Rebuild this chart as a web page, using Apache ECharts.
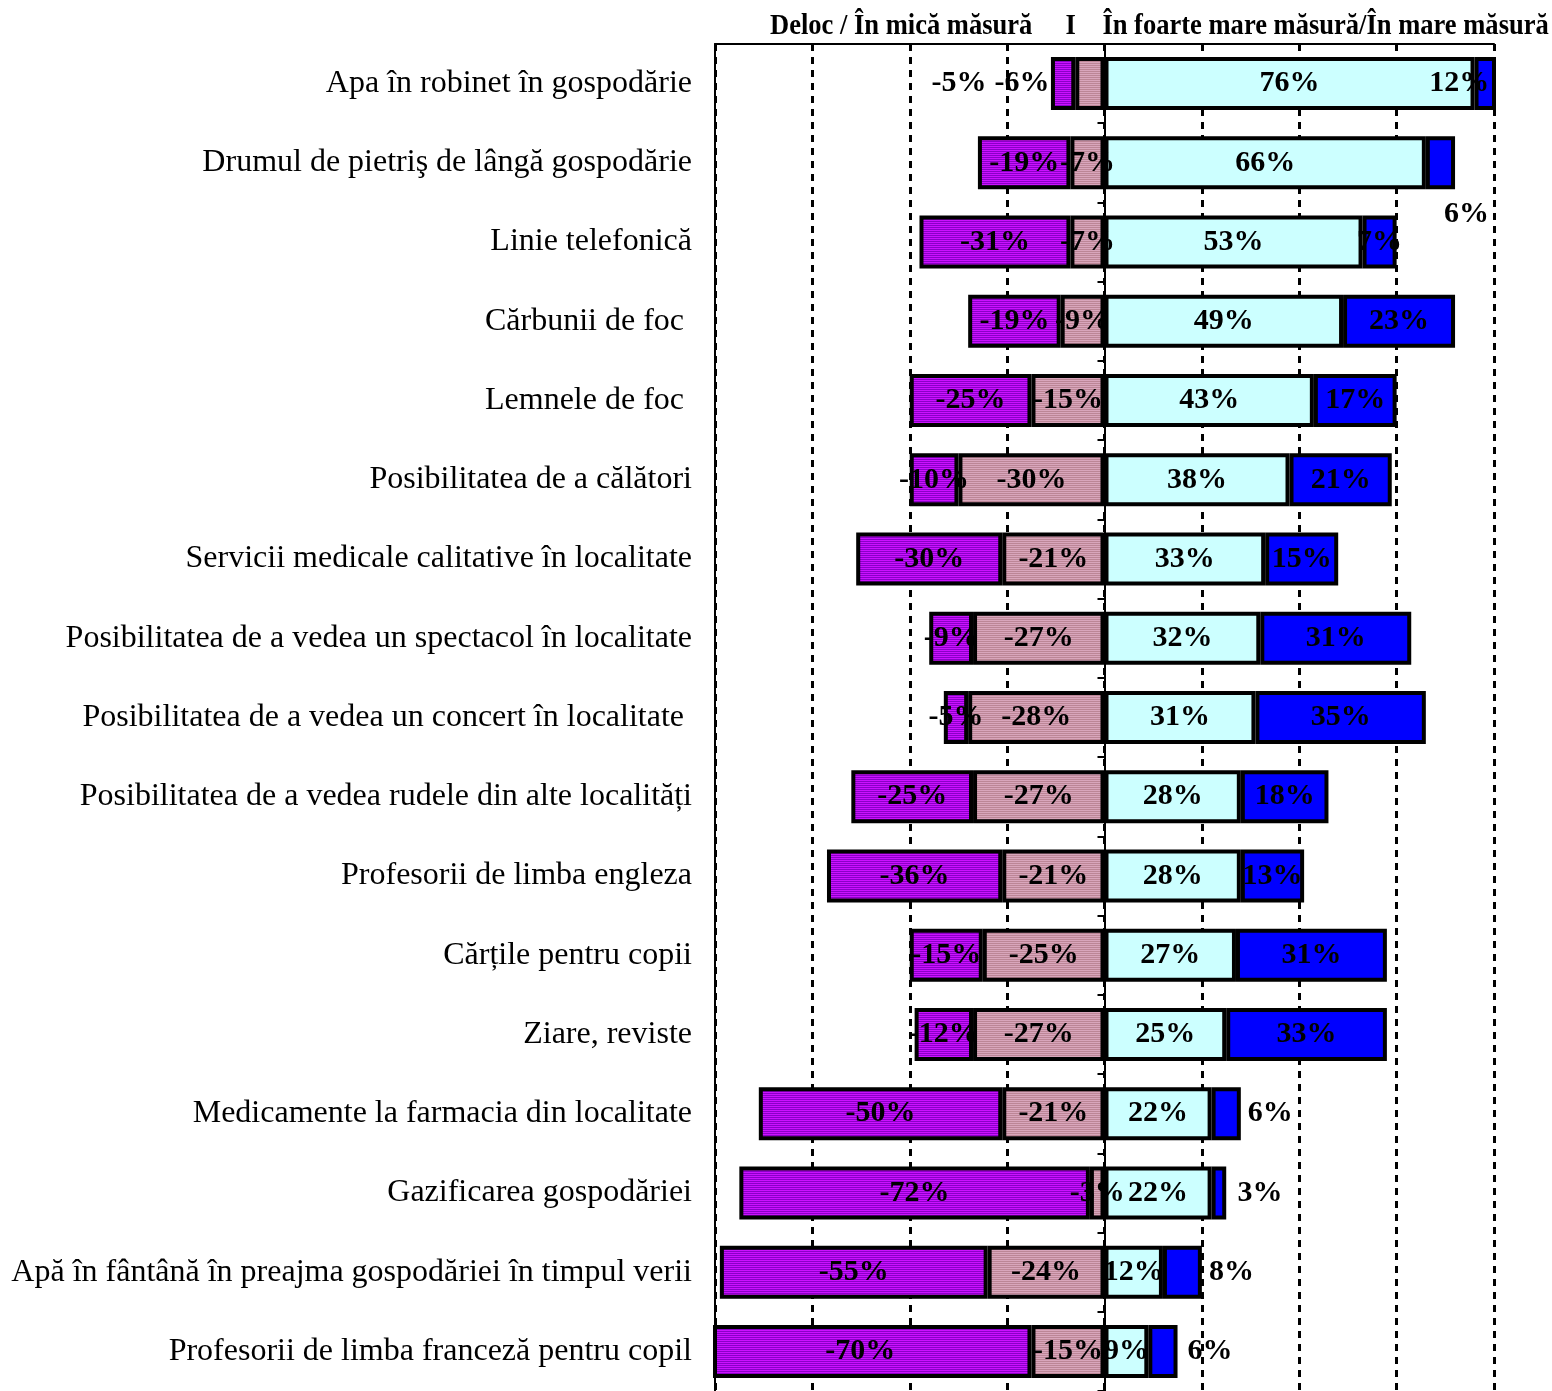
<!DOCTYPE html>
<html>
<head>
<meta charset="utf-8">
<script src="https://cdn.jsdelivr.net/npm/echarts@6/dist/echarts.min.js"></script>
<style>
html,body{margin:0;padding:0;background:#fff;}
#chart{width:1552px;height:1391px;}
</style>
</head>
<body>
<div id="chart"></div>
<script>
// ---- data ----
var categories = [
  'Apa în robinet în gospodărie',
  'Drumul de pietriş de lângă gospodărie',
  'Linie telefonică',
  'Cărbunii de foc ',
  'Lemnele de foc ',
  'Posibilitatea de a călători',
  'Servicii medicale calitative în localitate',
  'Posibilitatea de a vedea un spectacol în localitate',
  'Posibilitatea de a vedea un concert în localitate ',
  'Posibilitatea de a vedea rudele din alte localități',
  'Profesorii de limba engleza',
  'Cărțile pentru copii',
  'Ziare, reviste',
  'Medicamente la farmacia din localitate',
  'Gazificarea gospodăriei',
  'Apă în fântână în preajma gospodăriei în timpul verii',
  'Profesorii de limba franceză pentru copil'
];
var delocValues     = [-5, -19, -31, -19, -25, -10, -30, -9, -5, -25, -36, -15, -12, -50, -72, -55, -70];
var micaValues      = [-6, -7, -7, -9, -15, -30, -21, -27, -28, -27, -21, -25, -27, -21, -3, -24, -15];
var mareValues      = [76, 66, 53, 49, 43, 38, 33, 32, 31, 28, 28, 27, 25, 22, 22, 12, 9];
var foarteMareValues= [12, 6, 7, 23, 17, 21, 15, 31, 35, 18, 13, 31, 33, 6, 3, 8, 6];
var axisTicks = [-80, -60, -40, -20, 0, 20, 40, 60, 80];
var headerLeft = 'Deloc / În mică măsură';
var headerMid = 'I';
var headerRight = 'În foarte mare măsură/În mare măsură';

// ---- label position tweaks (pixels, style only) ----
var labelOffsets = {
  deloc: {0: [-104, 0], 16: [-12, 0]},
  mica: {0: [-68, 0]},
  mare: {},
  foarte: {0: [-26, 0], 1: [26, 51], 13: [44, 0], 14: [41, 0], 15: [49, 0], 16: [47, 0]}
};

function stripe(c1, c2) {
  var cv = document.createElement('canvas');
  cv.width = 4; cv.height = 4;
  var ctx = cv.getContext('2d');
  ctx.fillStyle = c1; ctx.fillRect(0, 0, 4, 4);
  ctx.fillStyle = c2; ctx.fillRect(0, 1, 4, 1); ctx.fillRect(0, 3, 4, 1);
  return {image: cv, repeat: 'repeat'};
}

var labelFont = {
  show: true, position: 'inside', color: '#000',
  fontFamily: 'Liberation Serif', fontWeight: 'bold', fontSize: 30,
  formatter: function (p) { return p.value + '%'; }
};

function items(values, key) {
  return values.map(function (v, i) {
    var o = {value: v};
    if (labelOffsets[key][i]) o.label = {offset: labelOffsets[key][i]};
    return o;
  });
}

function makeSeries(name, values, key, color) {
  return {
    name: name, type: 'bar', stack: 'all', barWidth: 53,
    itemStyle: {color: color, borderColor: '#000', borderWidth: 4},
    label: labelFont,
    data: items(values, key)
  };
}

var chart = echarts.init(document.getElementById('chart'));
chart.setOption({
  animation: false,
  backgroundColor: '#fff',
  grid: {left: 715, right: 58, top: 44, height: 1353, containLabel: false},
  xAxis: {
    type: 'value', position: 'top', min: axisTicks[0], max: axisTicks[axisTicks.length - 1], interval: 20,
    axisLine: {show: true, onZero: false, lineStyle: {color: '#000', width: 2}},
    axisTick: {show: false}, axisLabel: {show: false},
    splitLine: {show: true, lineStyle: {color: '#000', width: 3, type: [7, 6]}}
  },
  yAxis: [{
    type: 'category', data: categories, inverse: true, position: 'left',
    axisLine: {show: true, onZero: false, lineStyle: {color: '#000', width: 2}},
    axisTick: {show: false},
    axisLabel: {color: '#000', fontFamily: 'Liberation Serif', fontSize: 32, margin: 23}
  }, {
    type: 'category', data: categories, inverse: true, position: 'left',
    axisLine: {show: true, onZero: true, lineStyle: {color: '#000', width: 2}},
    axisTick: {show: true, length: 7, lineStyle: {color: '#000', width: 2}},
    axisLabel: {show: false}
  }],
  graphic: [{
    type: 'text', x: 770, y: 12, scaleX: 0.915,
    style: {text: headerLeft + '     ' + headerMid + '    ' + headerRight, font: 'bold 29px "Liberation Serif"', fill: '#000'}
  }],
  series: [
    makeSeries('În mică măsură', micaValues, 'mica', stripe('#D9A6BC', '#BC8696')),
    makeSeries('Deloc', delocValues, 'deloc', stripe('#CC11FF', '#8A00C8')),
    makeSeries('În mare măsură', mareValues, 'mare', '#CCFFFF'),
    makeSeries('În foarte mare măsură', foarteMareValues, 'foarte', '#0000FF')
  ]
});
</script>
</body>
</html>
